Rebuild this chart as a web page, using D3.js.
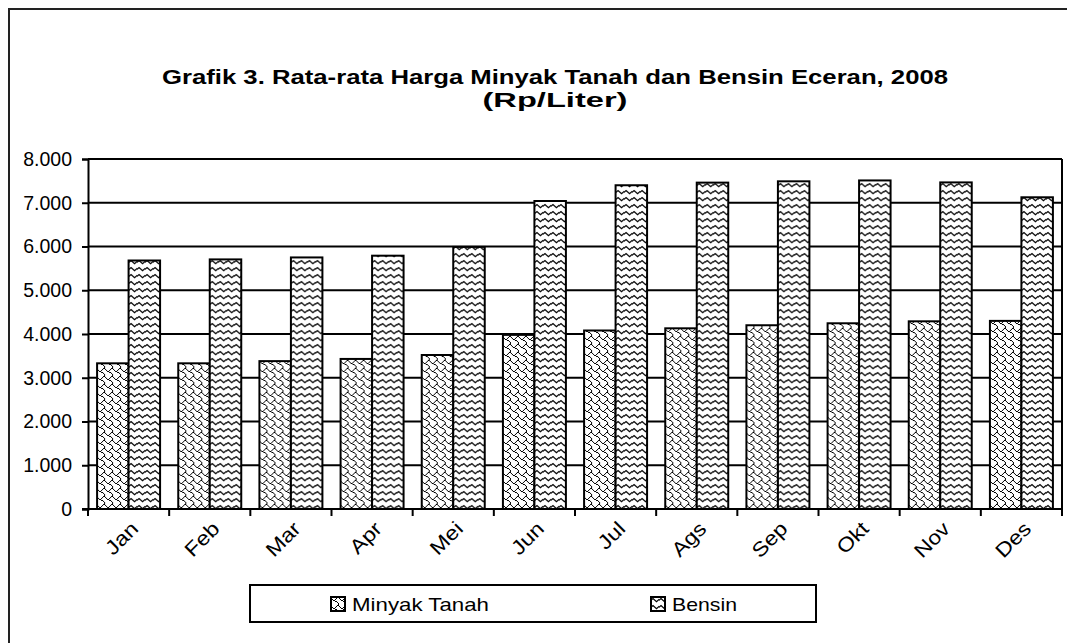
<!DOCTYPE html>
<html>
<head>
<meta charset="utf-8">
<script src="https://cdn.jsdelivr.net/npm/d3@7"></script>
<style>
  body { margin: 0; background: #fff; }
  svg { display: block; font-family: "Liberation Sans", Arial, sans-serif; }
</style>
</head>
<body>
<div id="chart"></div>
<script>
// data
const months = ["Jan", "Feb", "Mar", "Apr", "Mei", "Jun", "Jul", "Ags", "Sep", "Okt", "Nov", "Des"];
const minyakTanah = [3330, 3330, 3380, 3430, 3520, 3980, 4080, 4130, 4200, 4245, 4290, 4300];
const bensin = [5680, 5705, 5750, 5790, 5990, 7040, 7400, 7460, 7490, 7510, 7465, 7125];
const seriesNames = ["Minyak Tanah", "Bensin"];
const yTicks = [0, 1000, 2000, 3000, 4000, 5000, 6000, 7000, 8000];
const titleLines = ["Grafik 3. Rata-rata Harga Minyak Tanah dan Bensin Eceran, 2008", "(Rp/Liter)"];

const width = 1067;
const height = 643;
const margin = { top: 159, right: 5, bottom: 134, left: 88 };

// the source picture is a bit stretched sideways, so text is fitted to measured widths
const titleWidths = [786, 145];
const legendWidths = [137, 65];
const stretch = 1.15;

const svg = d3.select("#chart").append("svg")
  .attr("width", width)
  .attr("height", height);

// patterns
const defs = svg.append("defs");

// shingle, 8x8 bitmap
const shingleBits = [0x03, 0x84, 0x48, 0x30, 0x0c, 0x02, 0x01, 0x01];
const pShingle = defs.append("pattern")
  .attr("id", "pat0")
  .attr("patternUnits", "userSpaceOnUse")
  .attr("width", 8).attr("height", 8);
pShingle.append("rect").attr("width", 8).attr("height", 8).attr("fill", "#fff");
shingleBits.forEach((b, r) => {
  for (let c = 0; c < 8; c++) {
    if (b & (0x80 >> c)) {
      pShingle.append("rect").attr("x", c).attr("y", r).attr("width", 1).attr("height", 1).attr("fill", "#000");
    }
  }
});

// wave
const pWave = defs.append("pattern")
  .attr("id", "pat1")
  .attr("patternUnits", "userSpaceOnUse")
  .attr("width", 8).attr("height", 7);
pWave.append("rect").attr("width", 8).attr("height", 7).attr("fill", "#fff");
pWave.append("path")
  .attr("d", "M-1,4 L2,1.5 L5.5,4.8 L8,2.5 L9,2")
  .attr("fill", "none")
  .attr("stroke", "#000")
  .attr("stroke-width", 1.2);

// outer frame
svg.append("rect")
  .attr("x", 9).attr("y", 9)
  .attr("width", 1070).attr("height", 650)
  .attr("fill", "none")
  .attr("stroke", "#222")
  .attr("stroke-width", 2);

// title
svg.append("g").selectAll("text")
  .data(titleLines)
  .join("text")
  .attr("x", 555)
  .attr("y", (d, i) => 84 + i * 23)
  .attr("text-anchor", "middle")
  .attr("font-weight", "bold")
  .attr("font-size", 20)
  .attr("textLength", (d, i) => titleWidths[i])
  .attr("lengthAdjust", "spacingAndGlyphs")
  .text(d => d);

// scales
const x = d3.scaleBand()
  .domain(months)
  .range([margin.left, width - margin.right])
  .paddingInner(0.224)
  .paddingOuter(0.112);

const xs = d3.scaleBand()
  .domain(seriesNames)
  .range([0, x.bandwidth()]);

const y = d3.scaleLinear()
  .domain([0, 8000])
  .range([height - margin.bottom, margin.top]);

const plotLeft = margin.left;
const plotRight = width - margin.right;

// gridlines
svg.append("g").selectAll("line")
  .data(yTicks.slice(1))
  .join("line")
  .attr("x1", plotLeft).attr("x2", plotRight)
  .attr("y1", d => y(d)).attr("y2", d => y(d))
  .attr("stroke", "#000")
  .attr("stroke-width", 2);

// plot right border
svg.append("line")
  .attr("x1", plotRight).attr("x2", plotRight)
  .attr("y1", y(8000)).attr("y2", y(0))
  .attr("stroke", "#000")
  .attr("stroke-width", 2);

// bars
const rows = months.map((m, i) => ({ month: m, values: [minyakTanah[i], bensin[i]] }));

svg.append("g").selectAll("g")
  .data(rows)
  .join("g")
  .attr("transform", d => `translate(${x(d.month)},0)`)
  .selectAll("rect")
  .data(d => d.values.map((v, j) => ({ name: seriesNames[j], value: v, j })))
  .join("rect")
  .attr("x", d => xs(d.name))
  .attr("y", d => y(d.value))
  .attr("width", xs.bandwidth())
  .attr("height", d => y(0) - y(d.value))
  .attr("fill", d => `url(#pat${d.j})`)
  .attr("stroke", "#000")
  .attr("stroke-width", 2);

// y axis
const fmt = v => d3.format(",")(v).replace(/,/g, ".");
const yAxis = svg.append("g")
  .attr("transform", `translate(${plotLeft},0)`)
  .call(d3.axisLeft(y).tickValues(yTicks).tickFormat(fmt).tickSize(6).tickPadding(10));
yAxis.select(".domain").attr("stroke-width", 2).attr("stroke", "#000");
yAxis.selectAll(".tick line").attr("stroke-width", 2).attr("stroke", "#000");
yAxis.selectAll(".tick text").attr("font-size", 19.5).attr("fill", "#000")
  .attr("font-family", "Liberation Sans, Arial, sans-serif");

// x axis
const xAxisG = svg.append("g").attr("transform", `translate(0,${y(0)})`);
xAxisG.append("line")
  .attr("x1", plotLeft - 6).attr("x2", plotRight)
  .attr("y1", 0).attr("y2", 0)
  .attr("stroke", "#000").attr("stroke-width", 2);
const step = x.step();
xAxisG.selectAll(".xt")
  .data(d3.range(months.length + 1))
  .join("line")
  .attr("class", "xt")
  .attr("x1", i => plotLeft + i * step).attr("x2", i => plotLeft + i * step)
  .attr("y1", 0).attr("y2", 7)
  .attr("stroke", "#000").attr("stroke-width", 2);
xAxisG.selectAll("text")
  .data(months)
  .join("text")
  .attr("transform", d => `translate(${x(d) + x.bandwidth() / 2 + 11},21) rotate(-45) scale(${stretch},1)`)
  .attr("text-anchor", "end")
  .attr("font-size", 20)
  .text(d => d);

// legend
const legend = svg.append("g");
legend.append("rect")
  .attr("x", 250).attr("y", 585)
  .attr("width", 566).attr("height", 37)
  .attr("fill", "#fff")
  .attr("stroke", "#000")
  .attr("stroke-width", 2);
const legendX = [331, 651];
const items = legend.selectAll(".item")
  .data(seriesNames)
  .join("g")
  .attr("class", "item")
  .attr("transform", (d, i) => `translate(${legendX[i]},597)`);
items.append("rect")
  .attr("width", 14).attr("height", 14)
  .attr("fill", (d, i) => `url(#pat${i})`)
  .attr("stroke", "#000")
  .attr("stroke-width", 2);
items.append("text")
  .attr("x", 21).attr("y", 14)
  .attr("font-size", 19)
  .attr("textLength", (d, i) => legendWidths[i])
  .attr("lengthAdjust", "spacingAndGlyphs")
  .text(d => d);
</script>
</body>
</html>
